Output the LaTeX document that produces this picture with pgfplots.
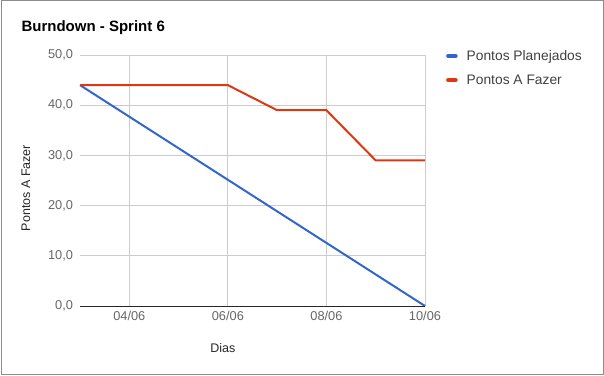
\documentclass[border=0pt]{standalone}
\usepackage{pgfplots}
\pgfplotsset{compat=1.18}
\usepackage{fontspec}
\setmainfont{Liberation Sans}
\definecolor{gblue}{HTML}{3366CC}
\definecolor{gred}{HTML}{DC3912}
\definecolor{tickgray}{HTML}{666666}
\definecolor{gridgray}{HTML}{CCCCCC}
\begin{document}
\begin{tikzpicture}[x=1pt,y=1pt]
\path[use as bounding box] (0,0) rectangle (604,375);
\draw[color=black!45, line width=1pt] (1,1) rectangle (603,374);
\node[anchor=west, font=\bfseries\fontsize{15}{18}\selectfont] at (18,347) {Burndown - Sprint 6};
\begin{axis}[
  at={(80pt,69pt)}, anchor=south west,
  scale only axis, width=345pt, height=251pt,
  xmin=3, xmax=10, ymin=0, ymax=50,
  xtick={4,6,8,10},
  xticklabels={04/06,06/06,08/06,10/06},
  ytick={0,10,20,30,40,50},
  /pgf/number format/assume math mode=true,
  y tick label style={/pgf/number format/fixed, /pgf/number format/fixed zerofill, /pgf/number format/precision=1, /pgf/number format/use comma, xshift=-3.5pt},
  tick label style={font=\fontsize{12.8}{15}\selectfont, text=tickgray},
  x tick label style={yshift=-2pt},
  major tick length=0pt,
  grid=major,
  major grid style={gridgray, line width=0.8pt},
  axis line style={draw=none},
  xlabel={Dias},
  ylabel={Pontos A Fazer},
  label style={font=\fontsize{12.5}{14}\selectfont, text=black!85},
  xlabel style={at={(axis description cs:0.414,0)}, anchor=center, yshift=-42pt},
  ylabel style={at={(axis description cs:-0.157,0.47)}, anchor=center, rotate=0},
  legend style={draw=none, fill=none, at={(1,1)}, anchor=north west, xshift=18pt, yshift=9pt,
    font=\fontsize{13.8}{16}\selectfont, text=black!75, row sep=9pt},
  legend cell align=left,
  legend image code/.code={\draw[#1, line width=3.5pt, line cap=round] (1pt,0pt) -- (9pt,0pt);},
  clip=false,
]
\addplot[gblue, line width=2pt] coordinates {(3,44) (10,0)};
\addlegendentry{\kern7pt Pontos Planejados}
\addplot[gred, line width=2pt] coordinates {(3,44) (4,44) (5,44) (6,44) (7,39) (8,39) (9,29) (10,29)};
\addlegendentry{\kern7pt Pontos A Fazer}
\draw[black!85, line width=1pt] (axis cs:3,0) -- (axis cs:10,0);
\end{axis}
\end{tikzpicture}
\end{document}
